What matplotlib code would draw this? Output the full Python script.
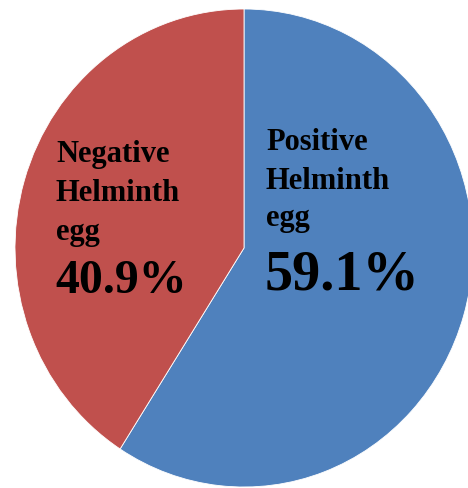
import matplotlib
matplotlib.use("Agg")
import matplotlib.pyplot as plt

labels = ["Positive Helminth egg", "Negative Helminth egg"]
values = [59.1, 40.9]
colors = ["#4F81BD", "#C0504D"]

W, H = 468, 488
fig = plt.figure(figsize=(W / 100, H / 100), dpi=100)
ax = fig.add_axes([0, 0, 1, 1])
ax.pie(values, colors=colors, startangle=90, counterclock=False, radius=1,
       wedgeprops=dict(edgecolor="white", linewidth=0.6))
cx, cy, rx, ry = 244, 248, 229, 239
ax.set_aspect("auto")
ax.set_xlim(-cx / rx, (W - cx) / rx)
ax.set_ylim(-(H - cy) / ry, cy / ry)
ax.axis("off")

font = dict(family="Liberation Serif", weight="bold", color="black")

def put(x, y, s, size):
    fig.text(x / W, 1 - y / H, s, fontsize=size, va="baseline", ha="left", **font)

# Positive label
for s, y in zip(["Positive", "Helminth", "egg"], [150, 189, 226]):
    put(266, y, s, 22)
put(265, 290, f"{values[0]}%", 40.5)

# Negative label
for s, y in zip(["Negative", "Helminth", "egg"], [162, 201, 240]):
    put(56, y, s, 22)
put(55, 293, f"{values[1]}%", 34.5)

fig.savefig("out.png", dpi=100)
